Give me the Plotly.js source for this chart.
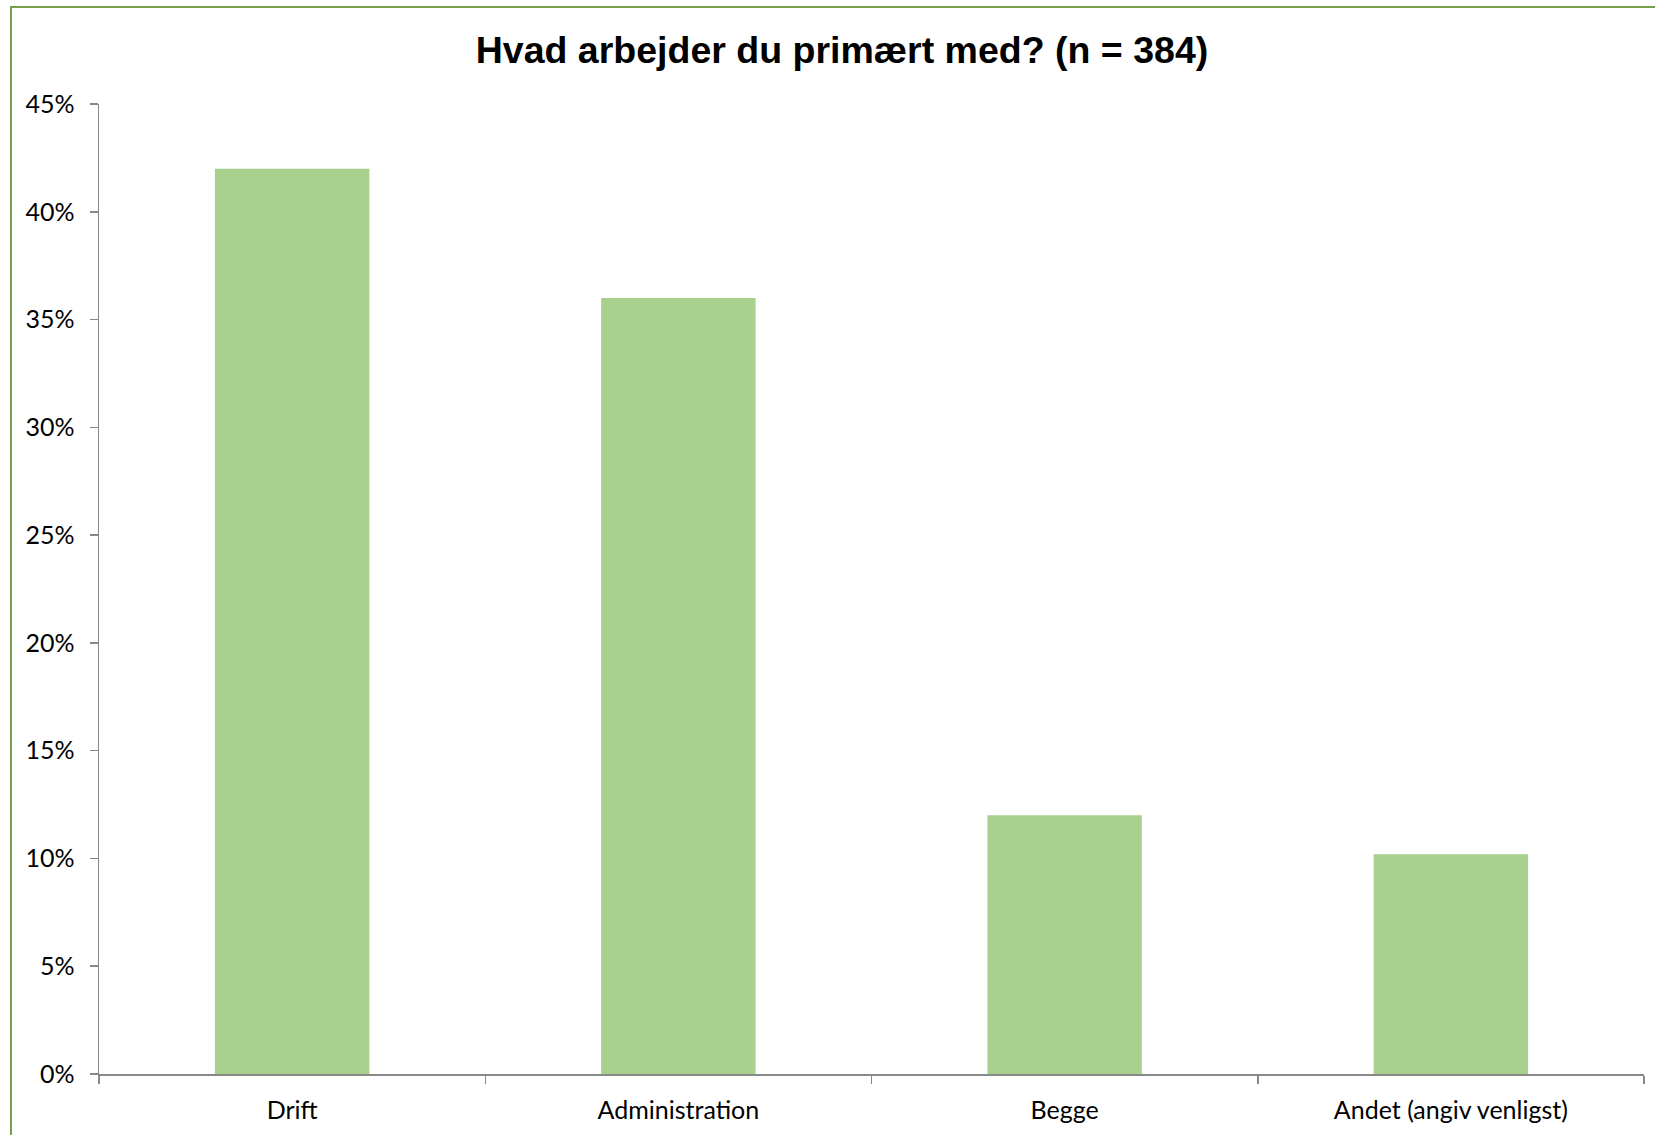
<!DOCTYPE html>
<html>
<head>
<meta charset="utf-8">
<script src="https://cdn.plot.ly/plotly-3.0.1.min.js"></script>
<style>html,body{margin:0;padding:0;background:#fff;overflow:hidden}#chart{width:1655px;height:1135px}</style>
</head>
<body>
<div id="chart"></div>
<script>
const categories = ["Drift", "Administration", "Begge", "Andet (angiv venligst)"];
const shares = [0.42, 0.36, 0.12, 0.102];
const titleText = "Hvad arbejder du primært med? (n = 384)";

const W = 1655, H = 1135;
const L = 99, R = 11, T = 104, B = 61;
const pw = W - L - R, ph = H - T - B;
// frame edges in pixels -> paper coordinates
const fx0 = (11 - L) / pw, fx1 = (1673 - L) / pw;
const fy1 = (H - B - 7) / ph, fy0 = (H - B - 1145) / ph;

const data = [{
  type: "bar",
  x: categories,
  y: shares,
  marker: {color: "#A9D18E", line: {width: 0}},
  hoverinfo: "none"
}];

const axisColor = "#898989";
const layout = {
  width: W, height: H,
  margin: {l: L, r: R, t: T, b: B},
  paper_bgcolor: "#ffffff",
  plot_bgcolor: "#ffffff",
  showlegend: false,
  bargap: 0.6,
  font: {family: "Lato, 'Open Sans', sans-serif", size: 25, color: "#000000"},
  title: {
    text: "<b>" + titleText + "</b>",
    font: {family: "'Liberation Sans', Arial, sans-serif", size: 37.5, color: "#000000"},
    x: 842 / W, xref: "container", xanchor: "center",
    y: 1 - 50 / H, yref: "container", yanchor: "middle"
  },
  xaxis: {
    type: "category",
    range: [-0.5, 3.5],
    showgrid: false,
    zeroline: false,
    showline: true, linecolor: axisColor, linewidth: 1.5,
    ticks: "outside", tickson: "boundaries", ticklen: 8, tickcolor: axisColor, tickwidth: 1.5,
    ticklabelstandoff: 13,
    tickfont: {size: 25, color: "#000000"}
  },
  yaxis: {
    range: [0, 0.45],
    dtick: 0.05, tick0: 0,
    tickformat: ".0%",
    showgrid: false,
    zeroline: false,
    showline: true, linecolor: axisColor, linewidth: 1.5,
    ticks: "outside", ticklen: 8, tickcolor: axisColor, tickwidth: 1.5,
    ticklabelstandoff: 10,
    tickfont: {size: 25, color: "#000000"}
  },
  shapes: [{
    type: "rect", xref: "paper", yref: "paper",
    x0: fx0, x1: fx1, y0: fy0, y1: fy1,
    line: {color: "#77A04C", width: 2},
    fillcolor: "rgba(0,0,0,0)",
    layer: "below"
  }]
};

Plotly.newPlot("chart", data, layout, {displayModeBar: false, staticPlot: true});
</script>
</body>
</html>
